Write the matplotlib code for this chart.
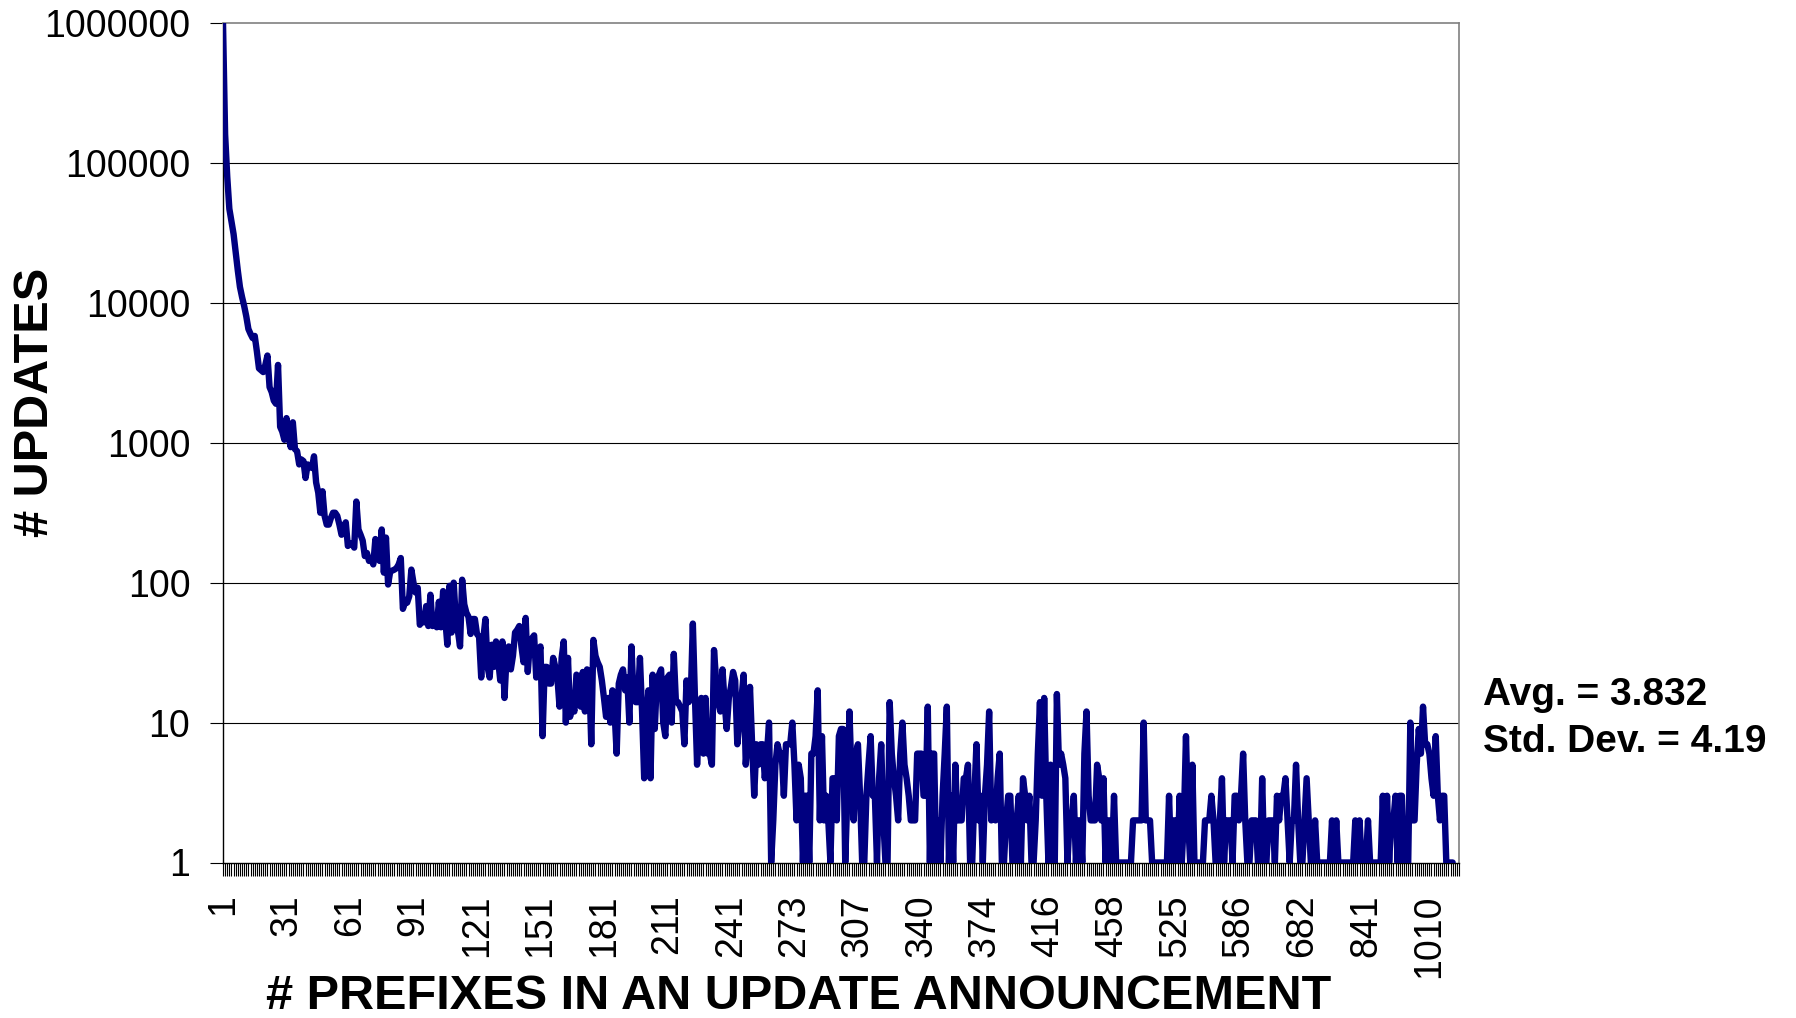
import matplotlib
matplotlib.use("Agg")
import matplotlib.pyplot as plt
import numpy as np
from matplotlib.ticker import NullLocator

plt.rcParams["font.family"] = ["Liberation Sans", "DejaVu Sans"]

# category labels shown on the x axis (every 30th category)
tick_labels = ["1", "31", "61", "91", "121", "151", "181", "211", "241", "273",
               "307", "340", "374", "416", "458", "525", "586", "682", "841", "1010"]
n_categories = 585

# number of updates per category
updates = [
    1000000, 160000, 80000, 47000, 38000, 31000, 23000, 17000, 13000, 11000,
    9500, 8000, 6500, 6000, 5600, 5800, 4500, 3400, 3300, 3200,
    3600, 4200, 2500, 2300, 2000, 1900, 3600, 1300, 1200, 1050,
    1500, 1100, 930, 1400, 900, 870, 700, 760, 740, 560,
    700, 680, 660, 800, 520, 440, 316, 450, 300, 260,
    260, 290, 316, 316, 300, 260, 220, 250, 270, 183,
    190, 190, 178, 380, 240, 220, 200, 155, 163, 143,
    150, 135, 205, 150, 143, 240, 118, 210, 97, 120,
    122, 124, 127, 135, 150, 65, 72, 72, 80, 124,
    100, 85, 92, 50, 55, 52, 68, 49, 82, 49,
    50, 48, 73, 48, 87, 55, 36, 95, 44, 100,
    55, 45, 35, 105, 70, 61, 57, 43, 55, 55,
    43, 41, 21, 40, 55, 25, 21, 36, 25, 38,
    28, 20, 38, 15, 30, 35, 24, 30, 44, 46,
    49, 35, 27, 56, 23, 37, 40, 42, 21, 30,
    35, 8, 25, 25, 19, 19, 29, 25, 21, 13,
    29, 38, 10, 29, 11, 14, 12, 22, 21, 13,
    23, 12, 24, 23, 7, 39, 30, 27, 25, 20,
    15, 11, 15, 10, 17, 12, 6, 19, 22, 24,
    17, 21, 10, 35, 15, 14, 14, 29, 12, 4,
    10, 17, 4, 22, 9, 20, 22, 24, 10, 8,
    21, 22, 10, 31, 14, 14, 13, 12, 7, 20,
    14, 15, 51, 15, 5, 10, 15, 6, 15, 6,
    6, 5, 33, 20, 14, 12, 24, 14, 9, 15,
    18, 23, 20, 7, 10, 15, 22, 5, 8, 18,
    7, 3, 7, 5, 7, 7, 4, 6, 10, 1,
    2, 5, 7, 6, 6, 3, 7, 7, 7, 10,
    5, 2, 5, 4, 1, 3, 3, 1, 6, 6,
    8, 17, 2, 8, 2, 3, 2, 1, 4, 4,
    2, 8, 9, 9, 1, 3, 12, 4, 2, 6,
    7, 3, 1, 1, 3, 5, 8, 3, 3, 1,
    4, 7, 2, 1, 1, 14, 6, 4, 3, 2,
    6, 10, 5, 4, 3, 2, 2, 2, 6, 6,
    6, 3, 3, 13, 1, 6, 6, 1, 2, 1,
    3, 6, 13, 1, 3, 1, 5, 2, 2, 2,
    4, 4, 5, 1, 1, 3, 7, 2, 3, 1,
    3, 5, 12, 2, 3, 2, 4, 6, 1, 1,
    2, 3, 3, 1, 1, 2, 3, 1, 4, 3,
    2, 3, 1, 1, 2, 6, 14, 3, 15, 3,
    1, 5, 3, 1, 16, 5, 6, 5, 4, 1,
    2, 2, 3, 1, 2, 2, 1, 6, 12, 3,
    2, 2, 2, 5, 4, 2, 4, 1, 2, 2,
    1, 3, 1, 1, 1, 1, 1, 1, 1, 1,
    2, 2, 2, 2, 2, 10, 2, 2, 2, 1,
    1, 1, 1, 1, 1, 1, 1, 3, 1, 2,
    2, 1, 3, 1, 2, 8, 2, 1, 5, 1,
    1, 1, 1, 1, 2, 2, 2, 3, 2, 1,
    1, 2, 4, 1, 2, 2, 2, 1, 3, 3,
    2, 3, 6, 2, 1, 1, 2, 2, 2, 1,
    1, 4, 1, 1, 2, 2, 2, 1, 3, 2,
    3, 3, 4, 2, 1, 2, 2, 5, 2, 1,
    1, 2, 4, 2, 1, 1, 2, 1, 1, 1,
    1, 1, 1, 1, 2, 1, 2, 1, 1, 1,
    1, 1, 1, 1, 1, 2, 1, 2, 1, 1,
    1, 2, 1, 1, 1, 1, 1, 1, 3, 1,
    3, 1, 2, 2, 3, 1, 3, 3, 1, 1,
    1, 10, 2, 2, 5, 9, 6, 13, 7, 7,
    6, 4, 3, 8, 3, 2, 3, 3, 1, 1,
    1, 1,
]

avg_text = "Avg. = 3.832"
std_text = "Std. Dev. = 4.19"

W, H = 1796, 1018
fig = plt.figure(figsize=(W / 100, H / 100), dpi=100)
ax = fig.add_axes([223 / W, 1 - 862.5 / H, (1459 - 223) / W, (862.5 - 23) / H])

# horizontal grid lines at each decade
for k in range(1, 6):
    ax.axhline(10 ** k, color="black", lw=0.8, zorder=1)

x = np.arange(len(updates))
ax.plot(x, updates, color="#000080", lw=4.6, solid_joinstyle="round",
        solid_capstyle="round", zorder=3)

# log y axis with plain integer labels
ax.set_yscale("log")
ax.set_ylim(1, 1e6)
yt = [10 ** k for k in range(7)]
ax.set_yticks(yt)
ax.set_yticklabels([str(v) for v in yt])
ax.yaxis.set_minor_locator(NullLocator())
ax.tick_params(axis="y", which="major", length=9.5, width=0.8, direction="out",
               labelsize=27, pad=14)

# category x axis: a tick on every category, label every 30th
ax.set_xlim(0, n_categories - 1)
ax.set_xticks(np.arange(0, 30 * len(tick_labels), 30))
ax.set_xticklabels(tick_labels, rotation=90)
ax.set_xticks(np.arange(n_categories), minor=True)
ax.tick_params(axis="x", which="both", length=9, width=0.8, direction="out",
               labelsize=27, pad=14)

for side in ["top", "right"]:
    ax.spines[side].set_color("#808080")
    ax.spines[side].set_linewidth(1.2)
for side in ["left", "bottom"]:
    ax.spines[side].set_color("black")
    ax.spines[side].set_linewidth(1.0)

# axis titles and stats annotation
fig.text(0.0195, 1 - 402 / H, "# UPDATES", rotation=90, fontsize=35,
         fontweight="bold", ha="center", va="center")
fig.text(799 / W, 1 - 1009 / H, "# PREFIXES IN AN UPDATE ANNOUNCEMENT",
         fontsize=35, fontweight="bold", ha="center", va="baseline")
fig.text(1483 / W, 1 - 705 / H, avg_text, fontsize=28, fontweight="bold",
         va="baseline")
fig.text(1483 / W, 1 - 752 / H, std_text, fontsize=28, fontweight="bold",
         va="baseline")

fig.savefig("out.png", dpi=100)
